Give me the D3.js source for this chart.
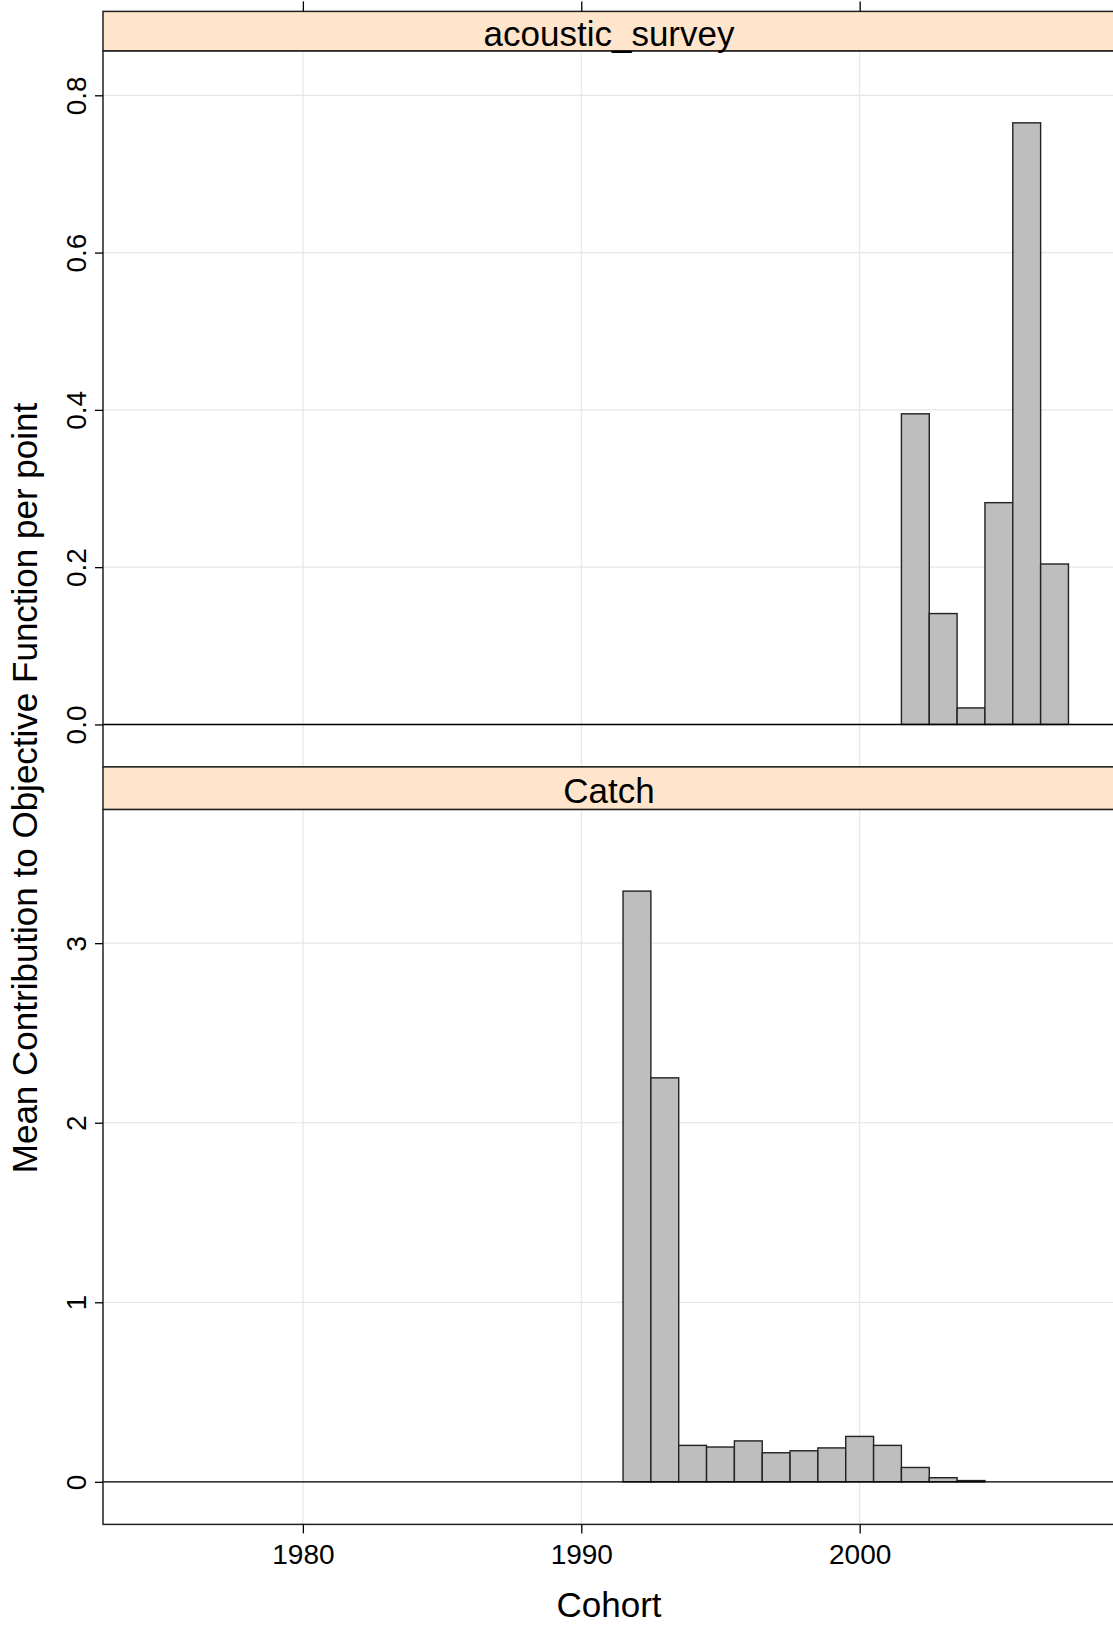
<!DOCTYPE html>
<html>
<head>
<meta charset="utf-8">
<script src="https://cdn.jsdelivr.net/npm/d3@7"></script>
<style>
  body { margin: 0; background: #fff; }
  svg { display: block; }
  text { font-family: "Liberation Sans", Arial, sans-serif; fill: #000; }
</style>
</head>
<body>
<svg id="chart" width="1113" height="1625"></svg>
<script>
// ---- data ----
const panelNames = ["acoustic_survey", "Catch"];
const acousticYears = [2002, 2003, 2004, 2005, 2006, 2007];
const acousticValues = [0.395, 0.141, 0.021, 0.282, 0.765, 0.204];
const catchYears = [1992, 1993, 1994, 1995, 1996, 1997, 1998, 1999, 2000, 2001, 2002, 2003, 2004];
const catchValues = [3.29, 2.25, 0.203, 0.194, 0.228, 0.162, 0.173, 0.189, 0.253, 0.203, 0.080, 0.023, 0.007];
const xTicks = [1980, 1990, 2000];
const acousticTicks = [0, 0.2, 0.4, 0.6, 0.8];
const acousticTickLabels = ["0.0", "0.2", "0.4", "0.6", "0.8"];
const catchTicks = [0, 1, 2, 3];
const catchTickLabels = ["0", "1", "2", "3"];

// ---- layout ----
const svg = d3.select("#chart");
const left = 103, right = 1113;
const x = d3.scaleLinear().domain([1972.82, 2009.10]).range([left, right]);

const panels = [
  { name: panelNames[0], years: acousticYears, values: acousticValues,
    ticks: acousticTicks, labels: acousticTickLabels,
    stripTop: 11.4, stripBottom: 50.8, bottom: 766.9,
    y: d3.scaleLinear().domain([-0.054, 0.8566]).range([766.9, 50.8]) },
  { name: panelNames[1], years: catchYears, values: catchValues,
    ticks: catchTicks, labels: catchTickLabels,
    stripTop: 766.9, stripBottom: 809.4, bottom: 1524.4,
    y: d3.scaleLinear().domain([-0.237, 3.745]).range([1524.4, 809.4]) }
];

const gridColor = "#e6e6e6";

panels.forEach((p, i) => {
  const g = svg.append("g");
  const top = p.stripBottom, bot = p.bottom;

  // vertical grid
  g.selectAll(".vg").data(xTicks).enter().append("line")
    .attr("x1", d => x(d)).attr("x2", d => x(d))
    .attr("y1", top).attr("y2", bot)
    .attr("stroke", gridColor).attr("stroke-width", 1.2);
  // horizontal grid
  g.selectAll(".hg").data(p.ticks).enter().append("line")
    .attr("x1", left).attr("x2", right)
    .attr("y1", d => p.y(d)).attr("y2", d => p.y(d))
    .attr("stroke", gridColor).attr("stroke-width", 1.2);

  // bars
  g.selectAll(".bar").data(p.years.map((yr, k) => ({ yr, v: p.values[k] }))).enter()
    .append("rect")
    .attr("x", d => x(d.yr - 0.5))
    .attr("width", d => x(d.yr + 0.5) - x(d.yr - 0.5))
    .attr("y", d => p.y(d.v))
    .attr("height", d => p.y(0) - p.y(d.v))
    .attr("fill", "#bebebe").attr("stroke", "#222").attr("stroke-width", 1.4);

  // zero reference line
  g.append("line")
    .attr("x1", left).attr("x2", right)
    .attr("y1", p.y(0)).attr("y2", p.y(0))
    .attr("stroke", "#000").attr("stroke-width", 1.4);

  // panel border
  g.append("rect")
    .attr("x", left).attr("y", top).attr("width", right - left + 2).attr("height", bot - top)
    .attr("fill", "none").attr("stroke", "#222").attr("stroke-width", 1.5);

  // strip
  g.append("rect")
    .attr("x", left).attr("y", p.stripTop)
    .attr("width", right - left + 2).attr("height", p.stripBottom - p.stripTop)
    .attr("fill", "#ffe5cc").attr("stroke", "#222").attr("stroke-width", 1.5);
  g.append("text")
    .attr("x", (left + right) / 2 + 1).attr("y", (p.stripTop + p.stripBottom) / 2 + 2)
    .attr("dy", "0.36em").attr("text-anchor", "middle")
    .attr("font-size", 35).text(p.name);

  // left axis
  const ya = d3.axisLeft(p.y).tickValues(p.ticks).tickSize(8)
    .tickFormat((d, k) => p.labels[k]);
  const ag = svg.append("g").attr("transform", `translate(${left},0)`).call(ya);
  ag.select(".domain").remove();
  ag.selectAll(".tick line").attr("stroke", "#000").attr("stroke-width", 1.3);
  ag.selectAll(".tick text")
    .attr("font-size", 28).attr("font-family", "Liberation Sans, Arial, sans-serif")
    .attr("fill", "#000")
    .attr("x", null).attr("dy", null)
    .attr("transform", "translate(-27,0) rotate(-90)")
    .attr("text-anchor", "middle").attr("dominant-baseline", "central");
});

// top axis ticks
const topAxis = d3.axisTop(x).tickValues(xTicks).tickSize(10).tickFormat("");
const tg = svg.append("g").attr("transform", `translate(0,${panels[0].stripTop})`).call(topAxis);
tg.select(".domain").remove();
tg.selectAll(".tick line").attr("stroke", "#000").attr("stroke-width", 1.3);

// bottom axis
const bottomAxis = d3.axisBottom(x).tickValues(xTicks).tickSize(9).tickPadding(11).tickFormat(d3.format("d"));
const bg = svg.append("g").attr("transform", `translate(0,${panels[1].bottom})`).call(bottomAxis);
bg.select(".domain").remove();
bg.selectAll(".tick line").attr("stroke", "#000").attr("stroke-width", 1.3);
bg.selectAll(".tick text").attr("font-size", 28)
  .attr("font-family", "Liberation Sans, Arial, sans-serif").attr("fill", "#000");

// axis titles
svg.append("text")
  .attr("x", (left + right) / 2 + 1).attr("y", 1617)
  .attr("text-anchor", "middle").attr("font-size", 35).text("Cohort");
svg.append("text")
  .attr("transform", `translate(37,788) rotate(-90)`)
  .attr("text-anchor", "middle").attr("font-size", 35)
  .text("Mean Contribution to Objective Function per point");
</script>
</body>
</html>
